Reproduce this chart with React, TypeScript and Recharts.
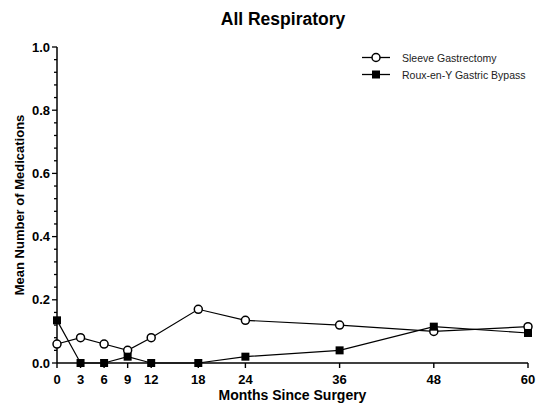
import React from "react";
import { LineChart, Line, XAxis, YAxis, Legend } from "recharts";

const months = [0, 3, 6, 9, 12, 18, 24, 36, 48, 60];
const sleeveValues = [0.06, 0.08, 0.06, 0.04, 0.08, 0.17, 0.135, 0.12, 0.1, 0.115];
const rygbValues = [0.135, 0, 0, 0.02, 0, 0, 0.02, 0.04, 0.115, 0.095];

const xTicks = [0, 3, 6, 9, 12, 18, 24, 36, 48, 60];
const yTicks = [
  0, 0.04, 0.08, 0.12, 0.16, 0.2, 0.24, 0.28, 0.32, 0.36, 0.4, 0.44, 0.48, 0.52,
  0.56, 0.6, 0.64, 0.68, 0.72, 0.76, 0.8, 0.84, 0.88, 0.92, 0.96, 1.0,
];

const seriesNames = ["Sleeve Gastrectomy", "Roux-en-Y Gastric Bypass"];

const data = months.map((m, i) => ({
  month: m,
  sleeve: sleeveValues[i],
  rygb: rygbValues[i],
}));

const FONT = '"Liberation Sans", Arial, Helvetica, sans-serif';

const XTick = (props: any) => {
  const { x, y, payload } = props;
  return (
    <g>
      <line x1={x} x2={x} y1={y} y2={y + 5} stroke="#000" strokeWidth={1.4} />
      <text
        x={x}
        y={y + 21}
        textAnchor="middle"
        fontFamily={FONT}
        fontWeight="bold"
        fontSize={13}
        fill="#000"
      >
        {payload.value}
      </text>
    </g>
  );
};

const YTick = (props: any) => {
  const { x, y, payload } = props;
  const v = payload.value;
  const major = Math.abs(v * 5 - Math.round(v * 5)) < 1e-6;
  return (
    <g>
      <line x1={x - (major ? 5 : 3)} x2={x} y1={y} y2={y} stroke="#000" strokeWidth={1.3} />
      {major && (
        <text
          x={x - 7}
          y={y}
          dy="0.36em"
          textAnchor="end"
          fontFamily={FONT}
          fontWeight="bold"
          fontSize={13}
          fill="#000"
        >
          {v.toFixed(1)}
        </text>
      )}
    </g>
  );
};

const CircleDot = (props: any) => {
  const { cx, cy, index } = props;
  return <circle key={index} cx={cx} cy={cy} r={4} fill="#fff" stroke="#000" strokeWidth={1.5} />;
};

const SquareDot = (props: any) => {
  const { cx, cy, index } = props;
  return <rect key={index} x={cx - 4} y={cy - 4} width={8} height={8} fill="#000" />;
};

const LegendContent = () => (
  <div style={{ fontFamily: FONT, fontSize: 10.5, color: "#222" }}>
    {seriesNames.map((name, i) => (
      <div key={name} style={{ display: "flex", alignItems: "center", height: 17 }}>
        <svg width={40} height={17}>
          <line x1={0} x2={28} y1={8.5} y2={8.5} stroke="#000" strokeWidth={1.3} />
          {i === 0 ? (
            <circle cx={14} cy={8.5} r={4} fill="#fff" stroke="#000" strokeWidth={1.5} />
          ) : (
            <rect x={10} y={4.5} width={8} height={8} fill="#000" />
          )}
        </svg>
        <span>{name}</span>
      </div>
    ))}
  </div>
);

export default function App() {
  return (
    <div style={{ position: "absolute", left: 0, top: 0, width: 540, height: 410, background: "#fff" }}>
      <LineChart
        width={540}
        height={410}
        data={data}
        margin={{ top: 47, right: 12, bottom: 0, left: 0 }}
      >
        <text
          x={283}
          y={25}
          textAnchor="middle"
          fontFamily={FONT}
          fontWeight="bold"
          fontSize={17.5}
          fill="#000"
        >
          All Respiratory
        </text>
        <XAxis
          dataKey="month"
          type="number"
          domain={[0, 60]}
          ticks={xTicks}
          interval={0}
          tickSize={0}
          tickMargin={0}
          tickLine={false}
          tick={XTick}
          height={47}
          axisLine={{ stroke: "#000", strokeWidth: 1.5 }}
          label={{
            content: (p: any) => {
              const vb = p.viewBox;
              return (
                <text
                  x={vb.x + vb.width / 2}
                  y={vb.y + 37}
                  textAnchor="middle"
                  fontFamily={FONT}
                  fontWeight="bold"
                  fontSize={14}
                  fill="#000"
                >
                  Months Since Surgery
                </text>
              );
            },
          }}
        />
        <YAxis
          type="number"
          domain={[0, 1]}
          ticks={yTicks}
          interval={0}
          width={57}
          tickSize={0}
          tickMargin={0}
          tickLine={false}
          tick={YTick}
          axisLine={{ stroke: "#000", strokeWidth: 1.5 }}
          label={{
            content: (p: any) => {
              const vb = p.viewBox;
              const cy = vb.y + vb.height / 2;
              const cx = vb.x + 24;
              return (
                <text
                  x={cx}
                  y={cy}
                  transform={`rotate(-90 ${cx} ${cy})`}
                  textAnchor="middle"
                  fontFamily={FONT}
                  fontWeight="bold"
                  fontSize={13}
                  fill="#000"
                >
                  Mean Number of Medications
                </text>
              );
            },
          }}
        />
        <Legend
          layout="vertical"
          align="center"
          verticalAlign="middle"
          content={LegendContent}
          wrapperStyle={{ left: 362, top: 49, width: 180, height: 36 }}
        />
        <Line
          dataKey="sleeve"
          name={seriesNames[0]}
          stroke="#000"
          strokeWidth={1.2}
          dot={CircleDot}
          isAnimationActive={false}
        />
        <Line
          dataKey="rygb"
          name={seriesNames[1]}
          stroke="#000"
          strokeWidth={1.2}
          dot={SquareDot}
          isAnimationActive={false}
        />
      </LineChart>
    </div>
  );
}
